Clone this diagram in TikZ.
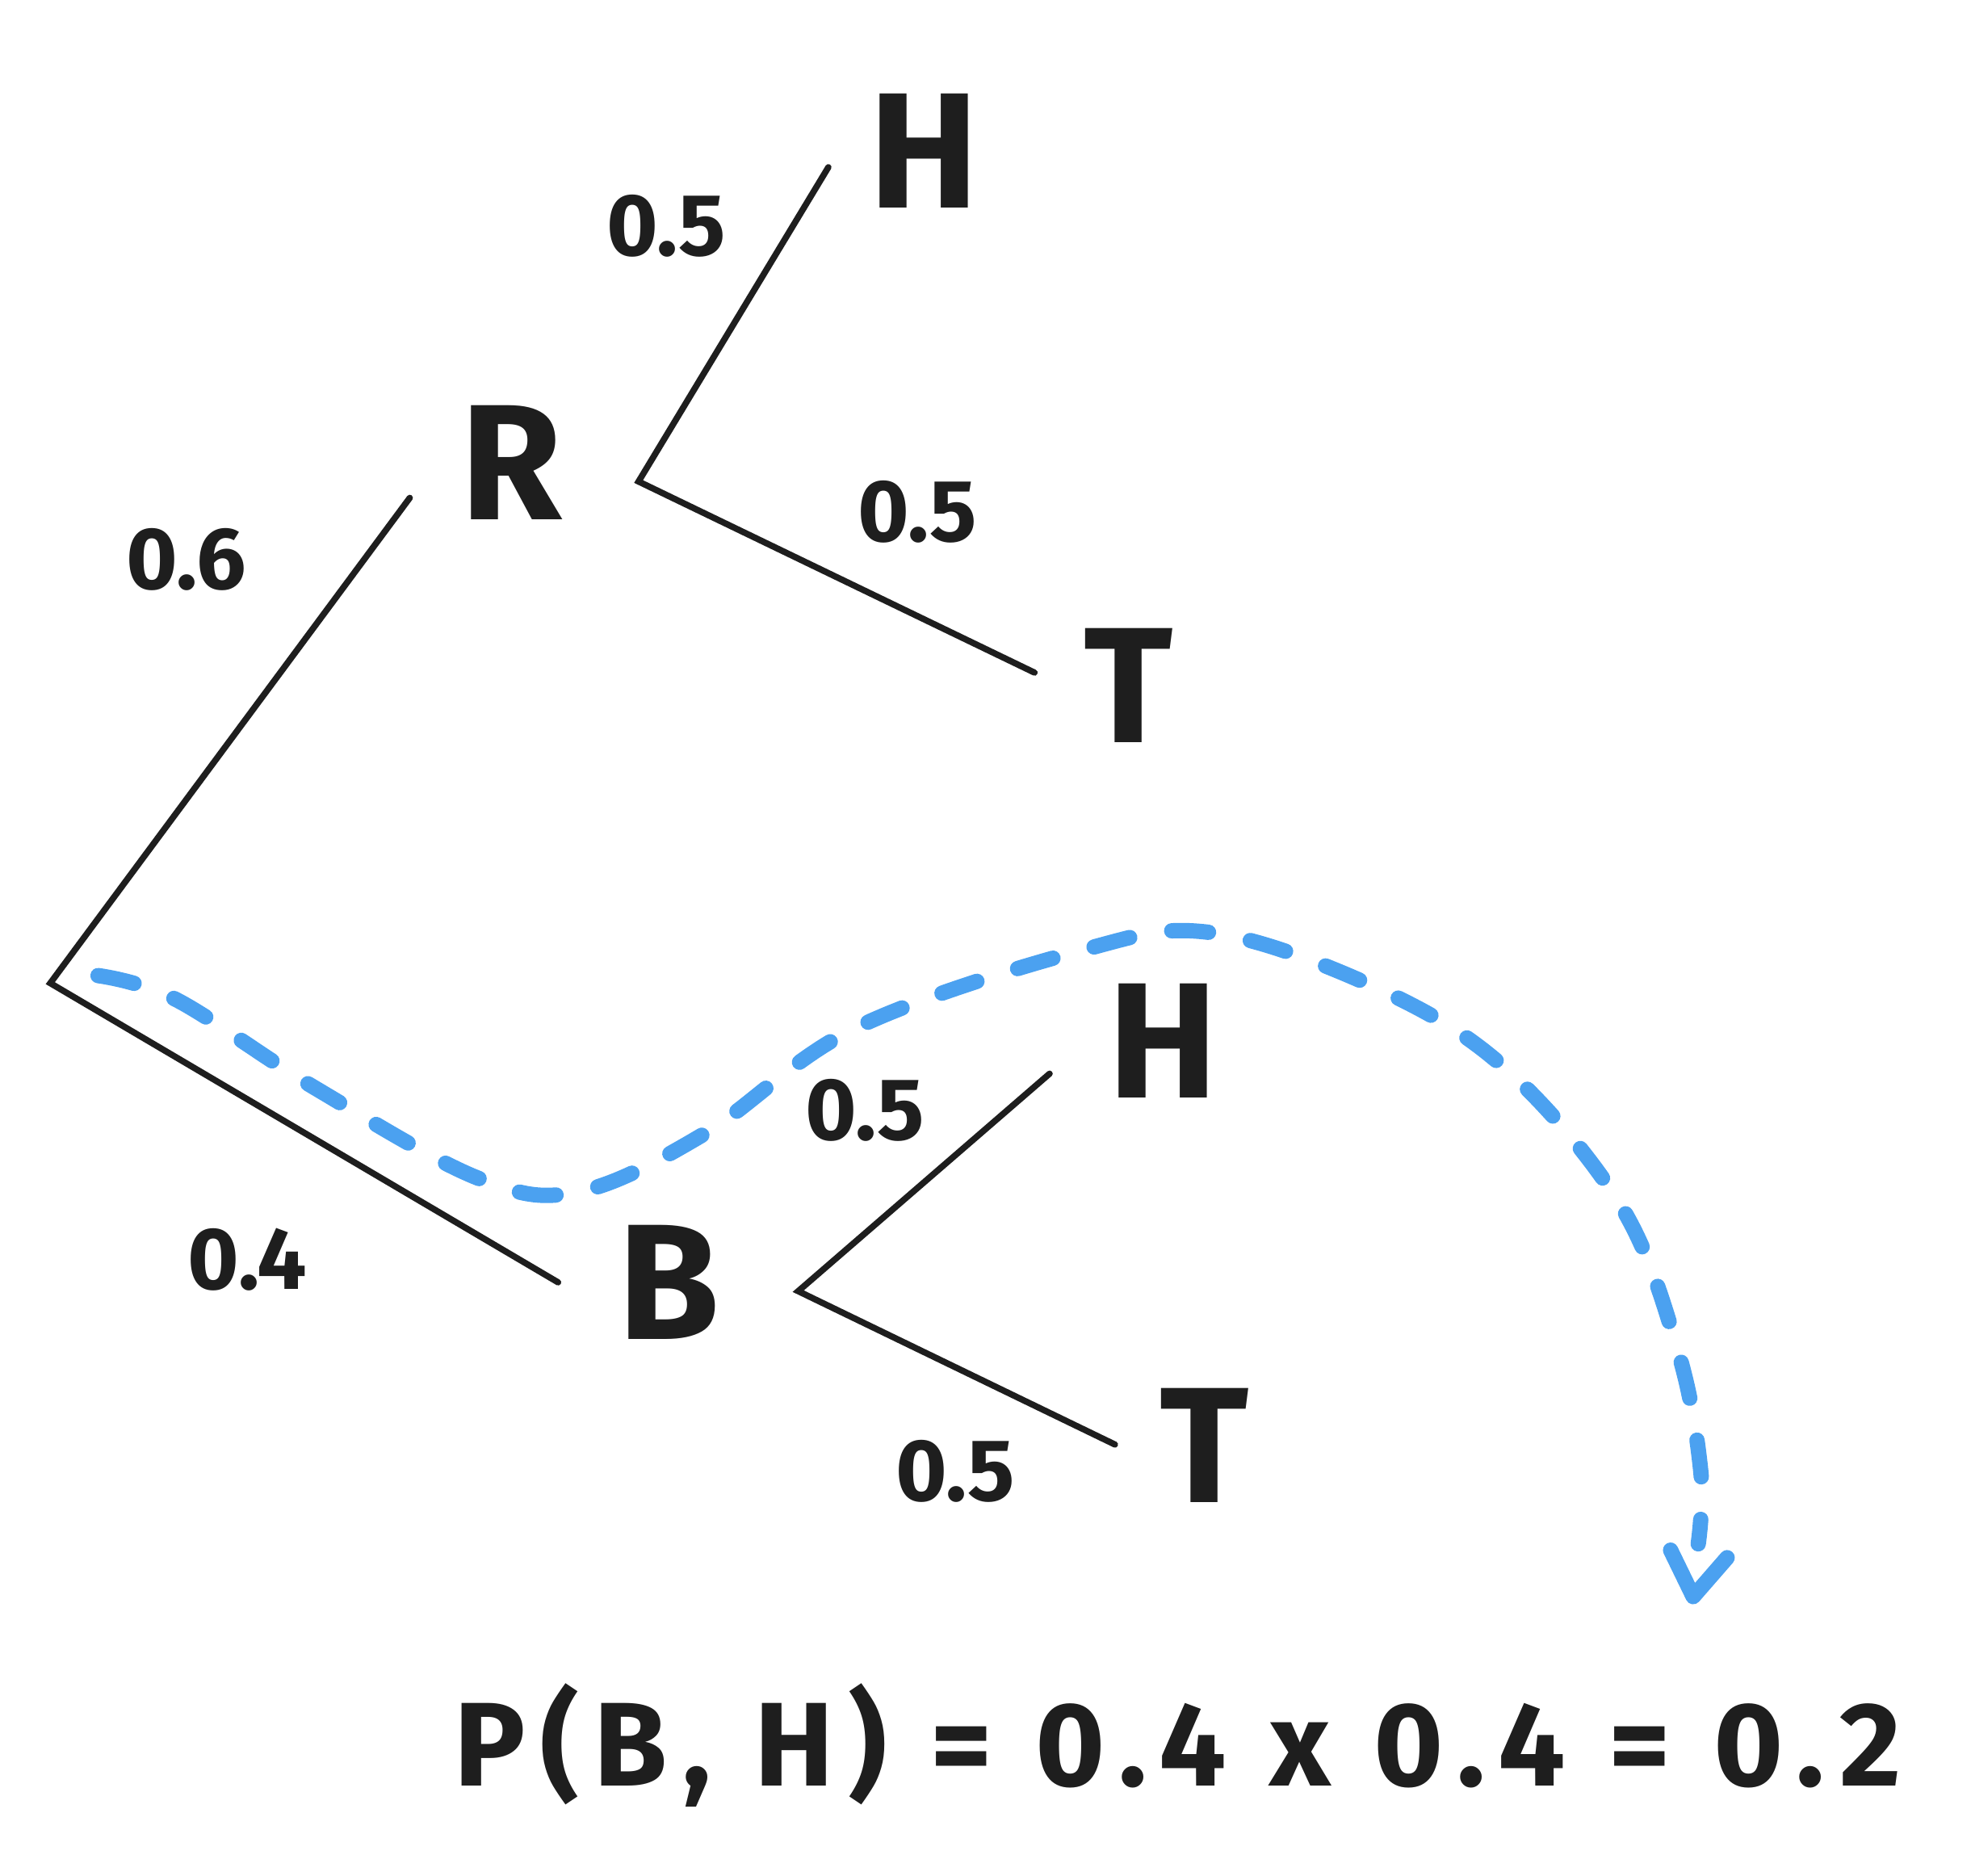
\documentclass[tikz,border=0pt]{standalone}
\usepackage{fontspec}
\setmainfont{Fira Sans}
\definecolor{ink}{HTML}{1E1E1E}
\definecolor{sky}{HTML}{4BA1F0}
\begin{document}
\begin{tikzpicture}[x=0.015568cm,y=-0.015568cm,
  branch/.style={draw=ink,line width=2.2pt,line cap=round},
  big/.style={text=ink,font=\fontsize{58}{60}\selectfont\bfseries,inner sep=0pt},
  prob/.style={text=ink,font=\fontsize{31}{33}\selectfont\bfseries,inner sep=0pt},
  formula/.style={text=ink,font=\fontsize{42}{44}\selectfont\bfseries\addfontfeature{LetterSpace=12.5},inner sep=0pt},
  path/.style={draw=sky,line width=5.4pt,line cap=round,dash pattern=on 13pt off 15pt},
  head/.style={draw=sky,line width=5.4pt,line cap=round,line join=round}]
\useasboundingbox[fill=white] (0,0) rectangle (1568,1492);
% coordinates of branch points and line ends
\coordinate (root) at (40,782);
\coordinate (rEnd) at (326,396);
\coordinate (bEnd) at (444,1020);
\coordinate (rFork) at (508,383);
\coordinate (rhEnd) at (659,133);
\coordinate (rtEnd) at (823,535);
\coordinate (bFork) at (635,1027);
\coordinate (bhEnd) at (835,854);
\coordinate (btEnd) at (887,1149);
% labels
\node[big] (H1) at (735,120) {H};
\node[big] (R) at (407,368) {R};
\node[big] (T1) at (898,545) {T};
\node[big] (B) at (532,1020) {B};
\node[big] (H2) at (925,828) {H};
\node[big] (T2) at (958,1150) {T};
\node[prob] (p1) at (530,180) {0.5};
\node[prob] (p2) at (730,407) {0.5};
\node[prob] (p3) at (148,445) {0.6};
\node[prob] (p4) at (197,1002) {0.4};
\node[prob] (p5) at (688,883) {0.5};
\node[prob] (p6) at (760,1170) {0.5};
\node[formula] (eq) at (937,1388) {P(B, H) = 0.4 x 0.4 = 0.2};
% branches
\draw[branch] (rEnd) -- (root) -- (bEnd);
\draw[branch] (rhEnd) -- (rFork) -- (rtEnd);
\draw[branch] (bhEnd) -- (bFork) -- (btEnd);
% blue dashed path
\coordinate (pStart) at (78,776);
\coordinate (pEnd) at (1351,1228);
\coordinate (tip) at (1347,1270);
\coordinate (wingL) at (1329,1233);
\coordinate (wingR) at (1374,1239);
\draw[path] plot[smooth,tension=0.6] coordinates {(pStart) (140,795) (250,865) (380,937) (460,948) (560,902) (680,818) (860,756) (965,742) (1100,788) (1200,852) (1290,960) (1335,1075) (1353,1170) (pEnd)};
\draw[head] (wingL) -- (tip) -- (wingR);
\end{tikzpicture}
\end{document}
